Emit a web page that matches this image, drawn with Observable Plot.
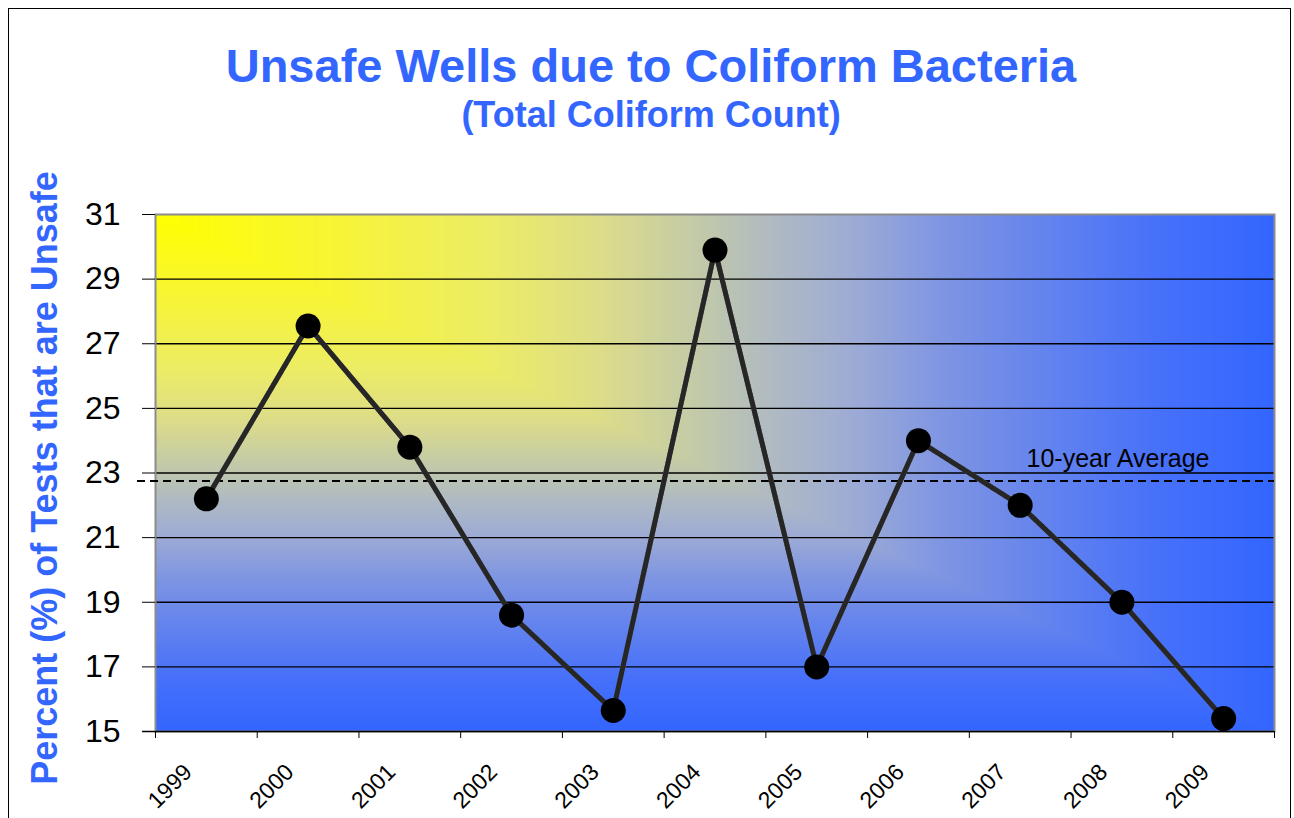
<!DOCTYPE html>
<html>
<head>
<meta charset="utf-8">
<script src="https://cdn.jsdelivr.net/npm/d3@7"></script>
<script src="https://cdn.jsdelivr.net/npm/@observablehq/plot@0.6"></script>
<style>
  html, body { margin: 0; padding: 0; background: #fff; }
  body { font-family: "Liberation Sans", Arial, sans-serif; width: 1294px; height: 818px; overflow: hidden; position: relative; }
  #outer { position: absolute; left: 8px; top: 8px; width: 1283px; height: 840px; border: 1px solid #000; box-sizing: border-box; pointer-events: none; }
  #titles { position: absolute; left: 0; top: 0; width: 1294px; height: 160px; z-index: 2; pointer-events: none; }
  .t { position: absolute; left: 4px; width: 1294px; text-align: center; font-weight: bold; color: #3366ff; white-space: nowrap; }
  #title { top: 42px; font-size: 47px; line-height: 47px; }
  #subtitle { top: 97px; font-size: 36px; line-height: 36px; }
  #chart svg { display: block; }
</style>
</head>
<body>
<div id="titles">
  <div class="t" id="title">Unsafe Wells due to Coliform Bacteria</div>
  <div class="t" id="subtitle">(Total Coliform Count)</div>
</div>
<div id="chart"></div>
<div id="outer"></div>
<script>
// ---- data ----
const years = ["1999", "2000", "2001", "2002", "2003", "2004", "2005", "2006", "2007", "2008", "2009"];
const pct = [22.2, 27.55, 23.8, 18.6, 15.65, 29.9, 17.0, 24.0, 22.0, 19.0, 15.4];
const yTicks = [15, 17, 19, 21, 23, 25, 27, 29, 31];
const gridValues = [17, 19, 21, 23, 25, 27, 29];
const average = 22.75;
const averageLabel = "10-year Average";
const yLabel = "Percent (%) of Tests that are Unsafe";
const gradientStops = [0, 0.15, 0.3, 0.4, 0.5, 0.55, 0.62, 0.7, 0.8, 0.9, 1];
const gradientColors = ["#ffff00", "#f8f532", "#ecec66", "#dcdc8a", "#bec6ae", "#b0bac2", "#9eacd4", "#8096e2", "#6282ee", "#4670fa", "#3366ff"];

// ---- table ----
const data = years.map((year, i) => ({ year, idx: i + 0.5, pct: pct[i] }));
const nCat = years.length;
const yMin = yTicks[0], yMax = yTicks[yTicks.length - 1];

const chart = Plot.plot({
  width: 1294,
  height: 818,
  marginTop: 214,
  marginBottom: 87,
  marginLeft: 155,
  marginRight: 20,
  style: { fontFamily: "'Liberation Sans', Arial, sans-serif", background: "transparent", color: "#000" },
  x: { domain: [0, nCat], axis: null },
  y: { domain: [yMin, yMax], axis: null },
  color: { type: "linear", domain: gradientStops, range: gradientColors },
  marks: [
    Plot.raster({
      x1: 0, x2: nCat, y1: yMin, y2: yMax,
      fill: (x, y) => Math.max(x / nCat, (yMax - y) / (yMax - yMin)),
      pixelSize: 1
    }),
    Plot.ruleY(gridValues, { stroke: "#000", strokeWidth: 1.4 }),
    Plot.frame({ stroke: "#8c8c8c", strokeWidth: 2 }),
    Plot.ruleY([yMin], { stroke: "#000", strokeWidth: 1.6, insetLeft: -13 }),
    Plot.axisY({ ticks: yTicks, tickSize: 13, tickPadding: 22, fontSize: 32, label: null, stroke: "#000", fill: "#000" }),
    Plot.axisX({ ticks: d3.range(0, nCat + 1), tickSize: 7, tickFormat: () => "", label: null, stroke: "#000" }),
    Plot.text(data, {
      x: "idx", text: "year", frameAnchor: "bottom", rotate: -45,
      textAnchor: "end", lineAnchor: "bottom", dx: -13, dy: 42, fontSize: 23, fill: "#000"
    }),
    Plot.text([yLabel], {
      frameAnchor: "left", rotate: -90, dx: -110, dy: 5,
      textAnchor: "middle", lineAnchor: "middle",
      fontSize: 36, fontWeight: "bold", fill: "#3366ff"
    }),
    Plot.ruleY([average], { stroke: "#000", strokeWidth: 2, strokeDasharray: "8,5", insetLeft: -18 }),
    Plot.text([{ label: averageLabel, value: average }], {
      y: "value", text: "label", frameAnchor: "right", textAnchor: "end",
      lineAnchor: "bottom", dx: -65, dy: -14, fontSize: 25, fill: "#000"
    }),
    Plot.line(data, { x: "idx", y: "pct", stroke: "#6a6a6a", strokeWidth: 5 }),
    Plot.line(data, { x: "idx", y: "pct", stroke: "#262626", strokeWidth: 5, strokeDasharray: "1.6,1.4" }),
    Plot.dot(data, { x: "idx", y: "pct", r: 12.5, fill: "#000", stroke: "none" })
  ]
});
document.getElementById("chart").appendChild(chart);
</script>
</body>
</html>
